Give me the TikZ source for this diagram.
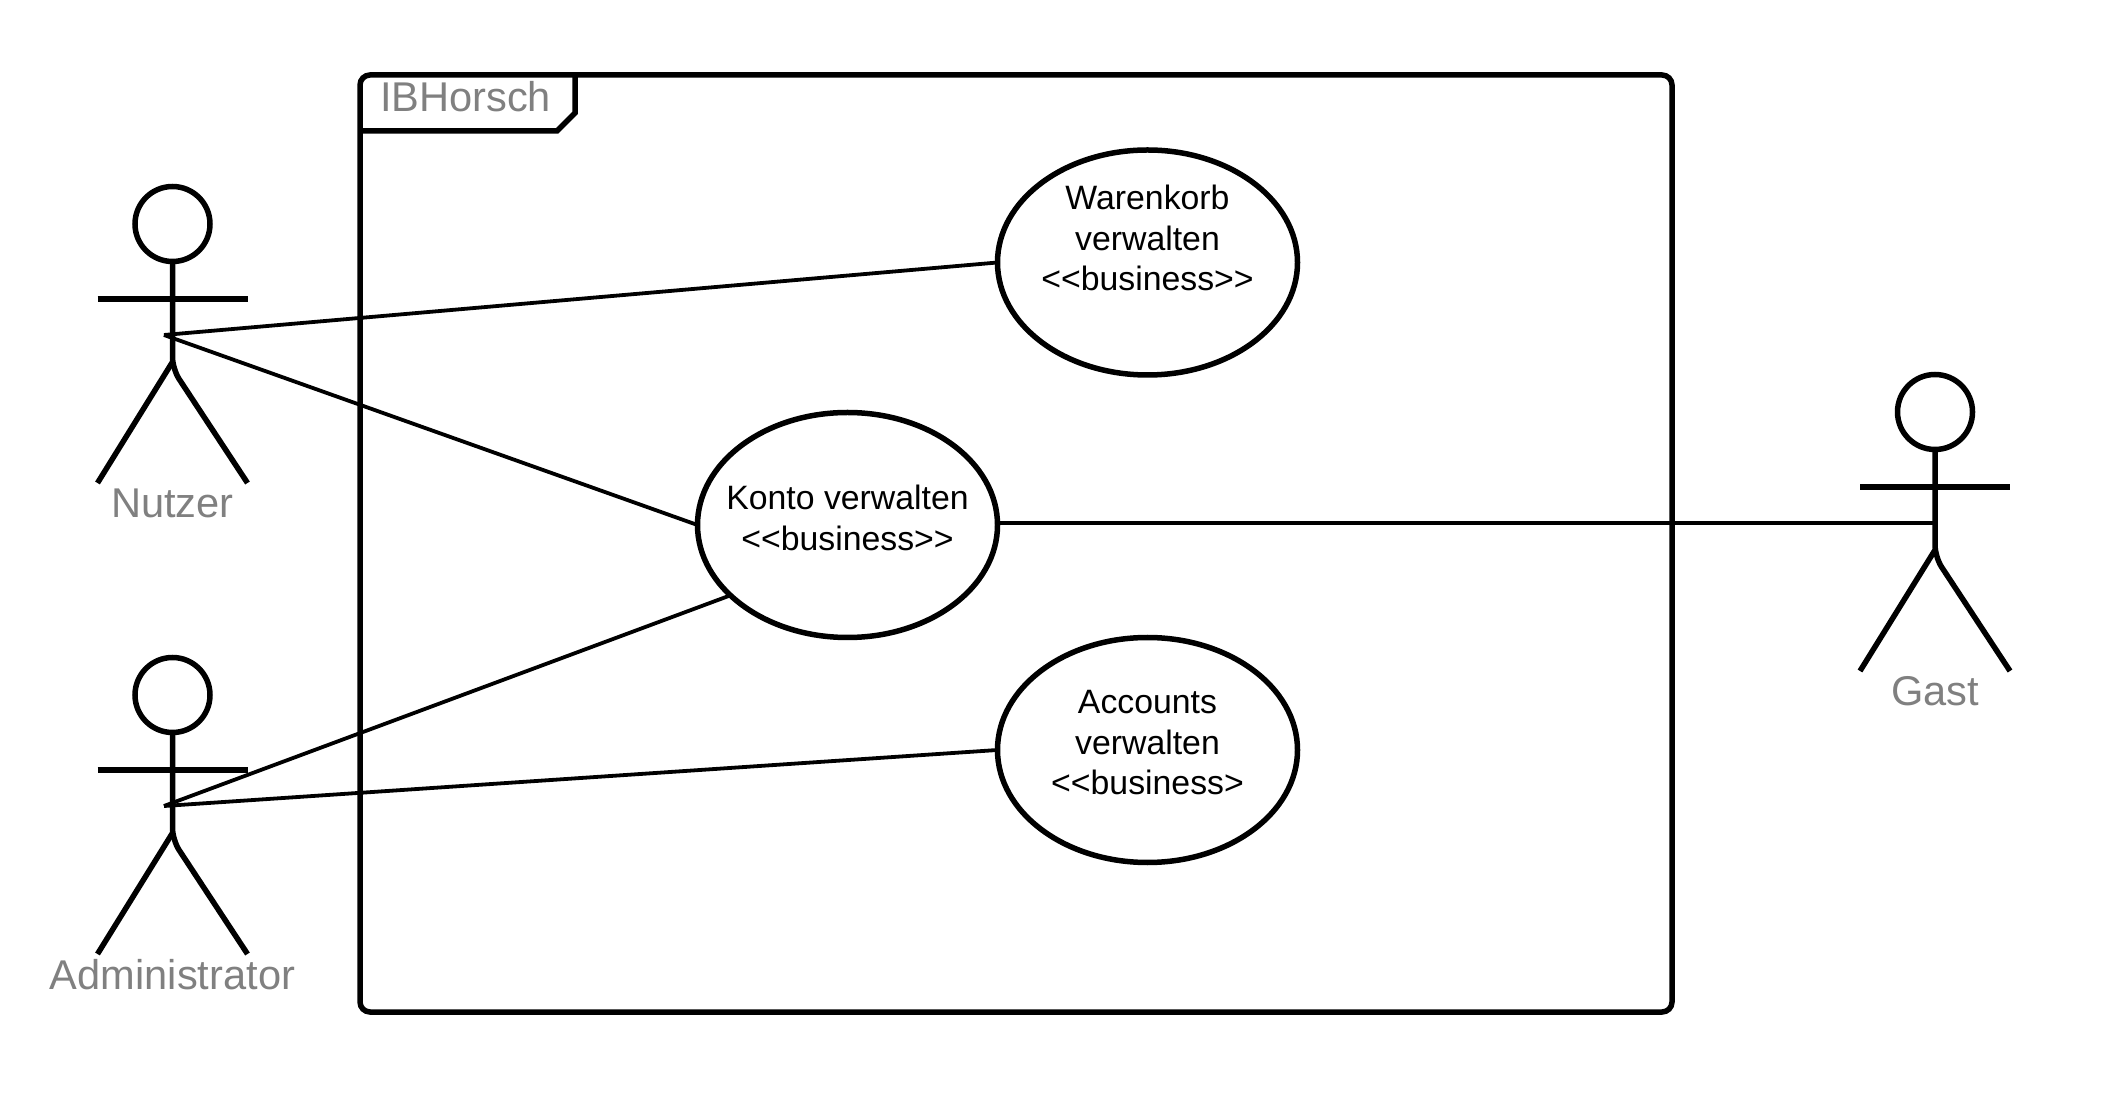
\documentclass[tikz,border=0pt]{standalone}
\usepackage{fontspec}
\setmainfont{Liberation Sans}
\usepackage{xcolor}
\usepackage{tikz}
\usetikzlibrary{shapes.geometric, positioning}
\definecolor{labelgray}{RGB}{128, 128, 128}

% stick figure: name, x, y, label
\newcommand{\actor}[4]{
    \begin{scope}[shift={(#2,#3)}]
        \node[actorhead] (#1head) at (0,0) {};
        \draw[heavy] (-75,75) -- (75,75);
        \draw[heavy, rounded corners=6pt] (#1head.south) -- (0,145) -- (75,259);
        \draw[heavy] (0,138) -- (-75,259);
        \coordinate (#1hand) at (-8.5,111);
        \coordinate (#1body) at (0,111);
        \node[actorlabel] (#1label) at (0,294) {#4};
    \end{scope}
}

\begin{document}
\begin{tikzpicture}[
    x=0.5pt, y=-0.5pt,
    heavy/.style={line width=2.75pt},
    assoc/.style={line width=1.9pt},
    usecase/.style={ellipse, draw, line width=2.75pt, fill=white, inner sep=0pt, outer sep=0pt, minimum width=150pt, minimum height=112.5pt},
    usetext/.style={align=center, font=\fontsize{16.9}{20.25}\selectfont},
    actorhead/.style={circle, draw, line width=2.75pt, inner sep=0pt, outer sep=0pt, minimum size=37.5pt},
    actorlabel/.style={anchor=base, text=labelgray, font=\fontsize{20.8}{24}\selectfont},
    systembox/.style={rectangle, draw, line width=2.75pt, rounded corners=5pt, inner sep=0pt, outer sep=0pt, minimum width=656pt, minimum height=468.5pt}
]
    \useasboundingbox (0,0) rectangle (2104,1095);

    % System frame
    \node[systembox] (system) at (1016,543.5) {};
    \draw[heavy] (360,131) -- (557,131) -- (575,113) -- (575,75);
    \node[actorlabel, anchor=base west] (systemname) at (373,112) {IBHorsch};

    % Use cases
    \node[usecase] (warenkorb) at (1147.5,262.5) {};
    \node[usecase] (konto) at (847.5,525) {};
    \node[usecase] (accounts) at (1147.5,750) {};
    \node[usetext] (warenkorbtext) at ([yshift=12.25pt]warenkorb.center) {Warenkorb\\verwalten\\<{}<business>{}>};
    \node[usetext] (kontotext) at ([yshift=3.5pt]konto.center) {Konto verwalten\\<{}<business>{}>};
    \node[usetext] (accountstext) at ([yshift=3.5pt]accounts.center) {Accounts\\verwalten\\<{}<business>};

    % Actors
    \actor{nutzer}{172.5}{224}{Nutzer}
    \actor{admin}{172.5}{695}{Administrator}
    \actor{gast}{1935}{412}{Gast}

    % Associations
    \draw[assoc] (nutzerhand) -- (warenkorb.west);
    \draw[assoc] (nutzerhand) -- (konto.west);
    \draw[assoc] (adminhand) -- (konto.211);
    \draw[assoc] (adminhand) -- (accounts.west);
    \draw[assoc] (konto.east |- gastbody) -- (gastbody);

\end{tikzpicture}
\end{document}
